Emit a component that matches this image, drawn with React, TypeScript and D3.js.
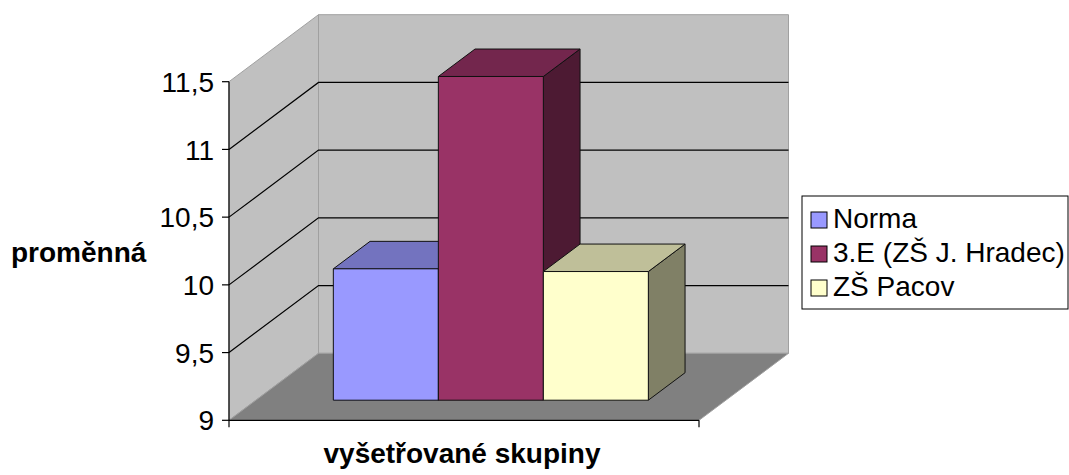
import React from "react";
import * as d3 from "d3";

const seriesNames = ["Norma", "3.E (ZŠ J. Hradec)", "ZŠ Pacov"];
const seriesValues = [9.97, 11.39, 9.95];
const frontColors = ["#9999ff", "#993366", "#ffffcc"];
const yTicks = [9, 9.5, 10, 10.5, 11, 11.5];
const yTickLabels = ["9", "9,5", "10", "10,5", "11", "11,5"];
const yTitle = "proměnná";
const xTitle = "vyšetřované skupiny";

const W = 1069;
const H = 475;
const FONT = "Arial, 'Liberation Sans', sans-serif";

export default function App() {
  const y = d3.scaleLinear().domain([9, 11.5]).range([420.3, 81.7]);
  const x = d3
    .scaleBand<string>()
    .domain(seriesNames)
    .range([229, 699])
    .paddingInner(0)
    .paddingOuter(0.738);
  const DX = 89.5;
  const DY = -67;
  const t1 = 0.3;
  const t2 = 0.71;
  const P = (px: number, v: number, t: number): [number, number] => [px + DX * t, y(v) + DY * t];
  const pts = (arr: [number, number][]) => arr.map((p) => p.join(",")).join(" ");
  const shade = (c: string, k: number) => {
    const col = d3.rgb(c);
    return d3.rgb(col.r * k, col.g * k, col.b * k).formatHex();
  };
  const x0 = 229;
  const x1 = 699;
  const vMin = 9;
  const vMax = 11.5;

  return (
    <svg width={W} height={H} style={{ display: "block", position: "absolute", left: 0, top: 0 }}>
      <rect x={0} y={0} width={W} height={H} fill="#ffffff" />
      {/* side wall */}
      <polygon
        points={pts([P(x0, vMin, 0), P(x0, vMax, 0), P(x0, vMax, 1), P(x0, vMin, 1)])}
        fill="#c0c0c0"
        stroke="#a0a0a0"
        strokeWidth={1}
      />
      {/* back wall */}
      <polygon
        points={pts([P(x0, vMin, 1), P(x0, vMax, 1), P(x1, vMax, 1), P(x1, vMin, 1)])}
        fill="#c0c0c0"
        stroke="#a0a0a0"
        strokeWidth={1}
      />
      {/* floor */}
      <polygon
        points={pts([P(x0, vMin, 0), P(x0, vMin, 1), P(x1, vMin, 1), P(x1, vMin, 0)])}
        fill="#808080"
        stroke="#a0a0a0"
        strokeWidth={1}
      />
      {/* gridlines */}
      {yTicks
        .filter((v) => v > vMin && v < vMax)
        .map((v) => (
          <polyline
            key={v}
            points={pts([P(x0, v, 0), P(x0, v, 1), P(x1, v, 1)])}
            fill="none"
            stroke="#000"
            strokeWidth={1.2}
          />
        ))}
      {/* bars */}
      {seriesNames.map((s, i) => {
        const bx0 = x(s)!;
        const bx1 = bx0 + x.bandwidth();
        const v = seriesValues[i];
        const c = frontColors[i];
        const front = [P(bx0, vMin, t1), P(bx0, v, t1), P(bx1, v, t1), P(bx1, vMin, t1)] as [number, number][];
        const top = [P(bx0, v, t1), P(bx0, v, t2), P(bx1, v, t2), P(bx1, v, t1)] as [number, number][];
        const side = [P(bx1, vMin, t1), P(bx1, v, t1), P(bx1, v, t2), P(bx1, vMin, t2)] as [number, number][];
        return (
          <g key={s} stroke="#111" strokeWidth={1} strokeLinejoin="round">
            <polygon points={pts(side)} fill={shade(c, 0.5)} />
            <polygon points={pts(top)} fill={shade(c, 0.75)} />
            <polygon points={pts(front)} fill={c} />
          </g>
        );
      })}
      {/* axes */}
      <line x1={x0} y1={y(vMax)} x2={x0} y2={y(vMin) + 7} stroke="#000" strokeWidth={1.2} />
      <line x1={x0} y1={y(vMin)} x2={x1} y2={y(vMin)} stroke="#000" strokeWidth={1.2} />
      <line x1={x1} y1={y(vMin)} x2={x1} y2={y(vMin) + 7} stroke="#000" strokeWidth={1.2} />
      {yTicks.map((v, i) => (
        <g key={v}>
          <line x1={x0 - 7} y1={y(v)} x2={x0} y2={y(v)} stroke="#000" strokeWidth={1.2} />
          <text
            x={214}
            y={y(v)}
            dy="0.36em"
            textAnchor="end"
            fontFamily={FONT}
            fontSize={28}
            fill="#000"
          >
            {yTickLabels[i]}
          </text>
        </g>
      ))}
      <text x={11} y={262} fontFamily={FONT} fontSize={28} fontWeight="bold" fill="#000">
        {yTitle}
      </text>
      <text x={462} y={463} textAnchor="middle" fontFamily={FONT} fontSize={28} fontWeight="bold" fill="#000">
        {xTitle}
      </text>
      {/* legend */}
      <rect x={802} y={196} width={266} height={113} fill="#fff" stroke="#000" strokeWidth={1} />
      {seriesNames.map((s, i) => (
        <g key={s}>
          <rect x={811} y={212 + i * 34} width={16} height={16} fill={frontColors[i]} stroke="#000" strokeWidth={1} />
          <text x={833} y={228 + i * 34} fontFamily={FONT} fontSize={28} fill="#000">
            {s}
          </text>
        </g>
      ))}
    </svg>
  );
}
